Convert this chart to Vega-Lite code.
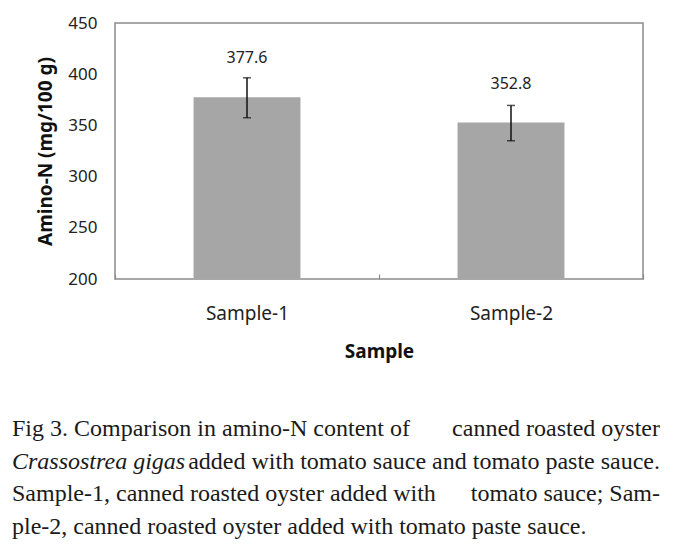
{
  "$schema": "https://vega.github.io/schema/vega-lite/v6.json",
  "padding": {"left": 12, "top": 13, "right": 0, "bottom": 0},
  "background": "white",
  "spacing": 55,
  "config": {"view": {"stroke": null}, "font": "Noto Sans"},
  "vconcat": [
    {
      "width": 528,
      "height": 256,
      "view": {"stroke": "#8c8c8c", "strokeWidth": 1.5},
      "data": {"values": [
        {"sample": "Sample-1", "value": 377.6, "lower": 357.5, "upper": 396.5},
        {"sample": "Sample-2", "value": 352.8, "lower": 335, "upper": 369.5}
      ]},
      "encoding": {
        "x": {
          "field": "sample", "type": "nominal", "title": "Sample",
          "scale": {"paddingInner": 0, "paddingOuter": 0},
          "axis": {"labelAngle": 0, "labelFontSize": 19, "labelColor": "#222", "domain": false,
                   "tickBand": "extent", "tickSize": -5, "tickColor": "#8c8c8c", "tickWidth": 1.2,
                   "labelPadding": 30, "titleFontSize": 19, "titleFontWeight": "bold", "titleColor": "#111", "titlePadding": 19}
        }
      },
      "layer": [
        {
          "mark": {"type": "bar", "color": "#a6a6a6", "width": {"band": 0.405}},
          "encoding": {
            "y": {"field": "value", "type": "quantitative", "title": "Amino-N (mg/100 g)",
                  "scale": {"domain": [200, 450], "zero": false, "nice": false},
                  "axis": {"values": [200, 250, 300, 350, 400, 450], "ticks": false, "domain": false, "grid": false,
                           "labelFontSize": 17, "labelColor": "#222", "labelPadding": 18,
                           "titleFontSize": 19, "titleFontWeight": "bold", "titleColor": "#111", "titlePadding": 12}},
            "y2": {"datum": 200}
          }
        },
        {
          "mark": {"type": "errorbar", "color": "#111", "ticks": {"size": 8, "thickness": 1.5}, "rule": {"strokeWidth": 1.5}},
          "encoding": {
            "y": {"field": "upper", "type": "quantitative", "title": "Amino-N (mg/100 g)"},
            "y2": {"field": "lower"}
          }
        },
        {
          "mark": {"type": "text", "baseline": "bottom", "dy": -31, "fontSize": 16, "color": "#222"},
          "encoding": {
            "y": {"field": "value", "type": "quantitative", "title": "Amino-N (mg/100 g)"},
            "text": {"field": "value", "type": "quantitative", "format": ".1f"}
          }
        }
      ]
    },
    {
      "width": 528,
      "height": 98,
      "data": {"values": [
        {"line": 1, "pos": 0, "part": "l", "text": "Fig 3. Comparison in amino-N content of"},
        {"line": 1, "pos": 1, "part": "r", "text": "canned roasted oyster"},
        {"line": 2, "pos": 0, "part": "i", "text": "Crassostrea gigas"},
        {"line": 2, "pos": 1, "part": "r", "text": "added with tomato sauce and tomato paste sauce."},
        {"line": 3, "pos": 0, "part": "l", "text": "Sample-1, canned roasted oyster added with"},
        {"line": 3, "pos": 1, "part": "r", "text": "tomato sauce; Sam-"},
        {"line": 4, "pos": 0, "part": "l", "text": "ple-2, canned roasted oyster added with tomato paste sauce."}
      ]},
      "encoding": {
        "x": {"field": "pos", "type": "quantitative", "scale": {"domain": [0, 1], "range": [-103, 545]}, "axis": null},
        "y": {"field": "line", "type": "quantitative", "scale": {"domain": [1, 4], "range": [0, 98]}, "axis": null},
        "text": {"field": "text"}
      },
      "layer": [
        {"transform": [{"filter": "datum.part == 'l'"}],
         "mark": {"type": "text", "align": "left", "baseline": "alphabetic", "font": "Liberation Serif", "fontSize": 24, "color": "#1a1a1a"}},
        {"transform": [{"filter": "datum.part == 'i'"}],
         "mark": {"type": "text", "align": "left", "baseline": "alphabetic", "font": "Liberation Serif", "fontSize": 24, "fontStyle": "italic", "color": "#1a1a1a"}},
        {"transform": [{"filter": "datum.part == 'r'"}],
         "mark": {"type": "text", "align": "right", "baseline": "alphabetic", "font": "Liberation Serif", "fontSize": 24, "color": "#1a1a1a"}}
      ]
    }
  ]
}
